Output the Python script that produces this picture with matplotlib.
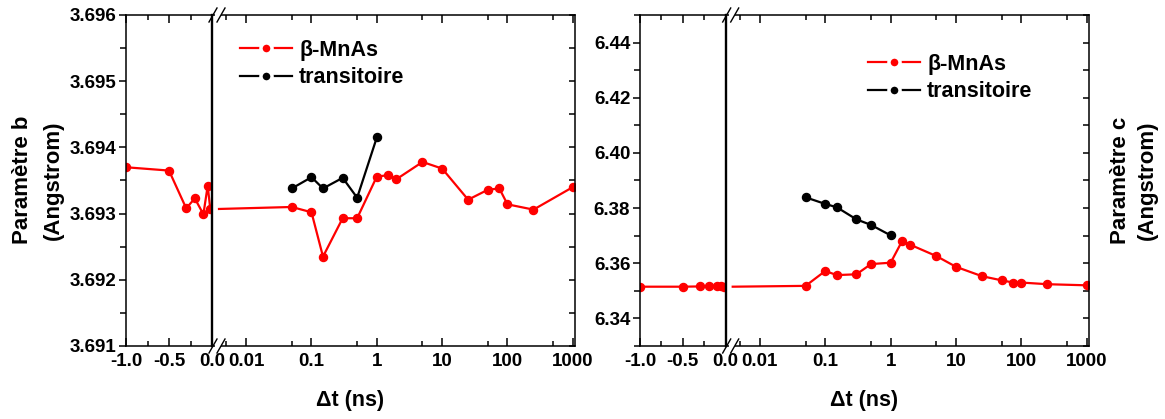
import numpy as np
import matplotlib
matplotlib.use('Agg')
import matplotlib.pyplot as plt
from matplotlib.lines import Line2D
from matplotlib.patches import Rectangle
from matplotlib.ticker import FixedLocator, NullFormatter

plt.rcParams['font.family'] = ['Liberation Sans', 'DejaVu Sans']
plt.rcParams['font.weight'] = 'bold'

# data
t_neg = [-1.0, -0.5, -0.3, -0.2, -0.1, -0.05, -0.02]
b_neg = [3.69370, 3.69365, 3.69308, 3.69323, 3.69299, 3.69342, 3.69307]
c_neg = [6.3515, 6.3515, 6.3516, 6.3516, 6.3517, 6.3516, 6.3515]

t_pos = [0.05, 0.1, 0.15, 0.3, 0.5, 1, 1.5, 2, 5, 10, 25, 50, 75, 100, 250, 1000]
b_pos = [3.69310, 3.69302, 3.69235, 3.69293, 3.69293, 3.69356, 3.69358, 3.69352,
         3.69378, 3.69368, 3.69321, 3.69336, 3.69338, 3.69314, 3.69306, 3.69340]
c_pos = [6.3518, 6.3572, 6.3557, 6.3560, 6.3597, 6.3602, 6.3681, 6.3667,
         6.3626, 6.3587, 6.3553, 6.3538, 6.3530, 6.3530, 6.3524, 6.3520]

t_tr = [0.05, 0.1, 0.15, 0.3, 0.5, 1]
b_tr = [3.69338, 3.69355, 3.69338, 3.69354, 3.69324, 3.69415]
c_tr = [6.3839, 6.3815, 6.3803, 6.3759, 6.3739, 6.3701]

b_ticks = [3.691, 3.692, 3.693, 3.694, 3.695, 3.696]
c_ticks = [6.34, 6.36, 6.38, 6.40, 6.42, 6.44]
lin_ticks = [-1.0, -0.5, 0.0]
lin_labels = ['-1.0', '-0.5', '0.0']
log_ticks = [0.01, 0.1, 1, 10, 100, 1000]
log_labels = ['0.01', '0.1', '1', '10', '100', '1000']

RED = '#ff0000'
FS_TICK = 13.5
FS_LAB = 15.5
W, H = 1165, 419

fig = plt.figure(figsize=(W / 100, H / 100), dpi=100)


def panel(x_lin, x_brk, x_end, y_neg, y_pos, y_tr, ylim, yt, fmt, ylabel, lab_x, lab_sp, leg_xy):
    bot = 1 - 346 / H
    top = 1 - 15 / H
    axl = fig.add_axes([x_lin / W, bot, (x_brk - x_lin) / W, top - bot])
    axr = fig.add_axes([x_brk / W, bot, (x_end - x_brk) / W, top - bot])
    axr.patch.set_visible(False)

    kw = dict(lw=1.6, marker='o', ms=5.8)
    axl.plot(t_neg, y_neg, color=RED, **kw)
    axl.set_xlim(-1.0, 0.0)
    axl.set_ylim(*ylim)

    axr.set_xscale('log')
    lo, hi = 0.003, 1080
    axr.set_xlim(lo, hi)
    axr.set_ylim(*ylim)
    # continuation of the red line across the break
    axr.plot([lo * 1.28, t_pos[0]], [y_neg[-1], y_pos[0]], color=RED, lw=1.6)
    axr.plot(t_pos, y_pos, color=RED, **kw)
    axr.plot(t_tr, y_tr, color='black', **kw)

    step = yt[1] - yt[0]
    ym = np.arange(yt[0] - step, yt[-1] + step * 1.01, step / 2)
    for a in (axl, axr):
        for s in a.spines.values():
            s.set_linewidth(1.1)
        a.yaxis.set_major_locator(FixedLocator(yt))
        a.yaxis.set_minor_locator(FixedLocator(ym))
        a.tick_params(axis='x', which='both', direction='in', top=True, bottom=True,
                      labelsize=FS_TICK, pad=5, width=1.1)
        a.tick_params(axis='x', which='major', length=6)
        a.tick_params(axis='x', which='minor', length=3.5)

    axl.spines['right'].set_linewidth(1.7)
    axr.spines['left'].set_visible(False)

    axl.set_xticks(lin_ticks)
    axl.set_xticklabels(lin_labels)
    axl.xaxis.set_minor_locator(FixedLocator([-0.75, -0.25]))
    axl.tick_params(axis='y', which='both', direction='out', left=True, right=False,
                    labelsize=FS_TICK, pad=2, width=1.1)
    axl.tick_params(axis='y', which='major', length=5)
    axl.tick_params(axis='y', which='minor', length=4)
    axl.set_yticklabels([fmt % v for v in yt])

    axr.xaxis.set_major_locator(FixedLocator(log_ticks))
    axr.set_xticklabels(log_labels)
    axr.xaxis.set_minor_locator(FixedLocator([5e-3, 5e-2, 0.5, 5, 50, 500]))
    axr.xaxis.set_minor_formatter(NullFormatter())
    axr.tick_params(axis='y', which='both', direction='in', left=False, right=True,
                    labelleft=False, length=4, width=1.1)

    # break marks "//" at top and bottom
    wpx = x_end - x_brk
    hpx = 331
    for yb in (0, 1):
        axr.add_patch(Rectangle((3 / wpx, yb - 2 / hpx), 6 / wpx, 4 / hpx, transform=axr.transAxes,
                                facecolor='white', edgecolor='none', clip_on=False, zorder=5))
        for xo in (1, 9):
            axr.plot([(xo - 4) / wpx, (xo + 4) / wpx], [yb - 7 / hpx, yb + 7 / hpx],
                     transform=axr.transAxes, color='black', lw=1.0, clip_on=False, zorder=6)

    h1 = Line2D([], [], color=RED, lw=1.6, marker='o', ms=8, mfc=RED, mec='white', mew=2.5)
    h2 = Line2D([], [], color='black', lw=1.6, marker='o', ms=8, mfc='black', mec='white', mew=2.5)
    axr.legend([h1, h2], ['β-MnAs', 'transitoire'], loc='upper left',
               bbox_to_anchor=((leg_xy[0] - x_brk) / wpx, (346 - leg_xy[1]) / hpx),
               frameon=False, fontsize=FS_LAB, handlelength=2.4, handletextpad=0.35,
               labelspacing=0.3, borderpad=0, borderaxespad=0, numpoints=1)

    fig.text((x_lin + x_end) / 2 / W, 1 - 400 / H, 'Δt (ns)', ha='center', va='center',
             fontsize=FS_LAB, fontweight='bold')
    fig.text(lab_x / W, 1 - 180 / H, ylabel, rotation=90, ha='center', va='center',
             multialignment='center', fontsize=16, fontweight='bold', linespacing=lab_sp)
    return axl, axr


panel(126, 212, 575, b_neg, b_pos, b_tr, (3.691, 3.696), b_ticks, '%.3f',
      'Paramètre b\n(Angstrom)', 38, 1.65, (240, 40))
panel(640, 725.7, 1089, c_neg, c_pos, c_tr, (6.33, 6.45), c_ticks, '%.2f',
      'Paramètre c\n(Angstrom)', 1134, 1.35, (868, 54))

fig.savefig('out.png', dpi=100)
